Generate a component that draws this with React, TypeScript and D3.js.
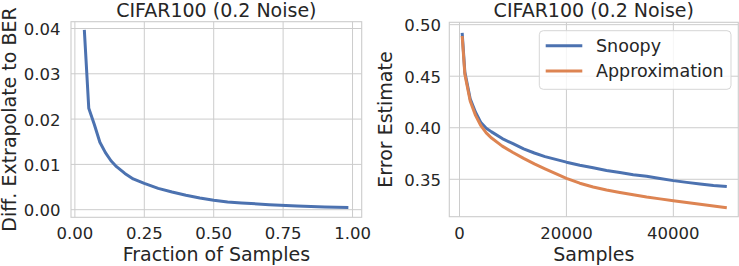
import React, { useEffect, useRef } from 'react'
import * as d3 from 'd3'

// Left panel: gap between the extrapolated error and the BER
const fractions = [0.034, 0.05, 0.07, 0.09, 0.11, 0.13, 0.15, 0.18, 0.21, 0.25, 0.30, 0.35, 0.40, 0.45, 0.50, 0.55, 0.60, 0.70, 0.80, 0.90, 0.985]
const diffBER = [0.0397, 0.0224, 0.0188, 0.0149, 0.0126, 0.0108, 0.0095, 0.0080, 0.0068, 0.0058, 0.0047, 0.0039, 0.0032, 0.0026, 0.0021, 0.0017, 0.0015, 0.0011, 0.0008, 0.0006, 0.0005]
const fracTicks = [0, 0.25, 0.5, 0.75, 1.0]
const diffTicks = [0, 0.01, 0.02, 0.03, 0.04]

// Right panel: error estimate vs number of samples
const samples = [500, 1000, 2000, 3000, 4000, 5000, 6000, 8000, 10000, 12000, 14000, 16000, 18000, 20000, 22500, 25000, 27500, 30000, 32500, 35000, 37500, 40000, 42500, 45000, 47500, 50000]
const snoopy = [0.492, 0.454, 0.428, 0.415, 0.405, 0.3995, 0.396, 0.3895, 0.3845, 0.3795, 0.3755, 0.372, 0.3693, 0.3666, 0.3637, 0.3612, 0.3585, 0.3565, 0.3545, 0.353, 0.3508, 0.3487, 0.347, 0.3455, 0.344, 0.3429]
const approximation = [0.489, 0.452, 0.426, 0.412, 0.402, 0.395, 0.390, 0.3822, 0.376, 0.3703, 0.365, 0.3602, 0.3555, 0.3508, 0.3462, 0.3425, 0.3396, 0.3372, 0.3349, 0.3328, 0.331, 0.3292, 0.3275, 0.3258, 0.324, 0.3224]
const sampleTicks = [0, 20000, 40000]
const errorTicks = [0.35, 0.40, 0.45, 0.50]

const title = 'CIFAR100 (0.2 Noise)'
const seriesNames = ['Snoopy', 'Approximation']
const colors = ['#4c72b0', '#dd8452']

const FONT = 'DejaVu Sans, sans-serif'
const TEXT = '#262626'
const GRID = '#cccccc'

function drawPanel(svg: any, p: any) {
    var x = d3.scaleLinear().domain(p.xDomain).range([p.left, p.right])
    var y = d3.scaleLinear().domain(p.yDomain).range([p.bottom, p.top])
    var g = svg.append('g')

    // Grid
    g.selectAll('.vg').data(p.xTicks).join('line')
        .attr('x1', (d: number) => x(d)).attr('x2', (d: number) => x(d))
        .attr('y1', p.top).attr('y2', p.bottom)
        .attr('stroke', GRID).attr('stroke-width', 1)
    g.selectAll('.hg').data(p.yTicks).join('line')
        .attr('x1', p.left).attr('x2', p.right)
        .attr('y1', (d: number) => y(d)).attr('y2', (d: number) => y(d))
        .attr('stroke', GRID).attr('stroke-width', 1)

    // Spines
    g.append('rect')
        .attr('x', p.left).attr('y', p.top)
        .attr('width', p.right - p.left).attr('height', p.bottom - p.top)
        .attr('fill', 'none').attr('stroke', GRID).attr('stroke-width', 1.1)

    // Lines
    var line = d3.line<number>()
        .x((d, i) => x(p.xs[i]))
        .y(d => y(d))
    p.series.forEach((s: number[], i: number) => {
        g.append('path')
            .datum(s)
            .attr('d', line)
            .attr('fill', 'none')
            .attr('stroke', colors[i])
            .attr('stroke-width', 3)
            .attr('stroke-linejoin', 'round')
    })

    // Tick labels
    g.selectAll('.xt').data(p.xTicks).join('text')
        .text((d: number) => p.xFormat(d))
        .attr('x', (d: number) => x(d)).attr('y', 239)
        .attr('text-anchor', 'middle')
        .attr('font-family', FONT).attr('font-size', '16.5px').attr('fill', TEXT)
    g.selectAll('.yt').data(p.yTicks).join('text')
        .text((d: number) => p.yFormat(d))
        .attr('x', p.left - p.yPad).attr('y', (d: number) => y(d) + 6.5)
        .attr('text-anchor', 'end')
        .attr('font-family', FONT).attr('font-size', '16.5px').attr('fill', TEXT)

    var cx = (p.left + p.right) / 2
    var cy = (p.top + p.bottom) / 2

    // Title and axis labels
    g.append('text').text(title)
        .attr('x', cx).attr('y', 17)
        .attr('text-anchor', 'middle')
        .attr('font-family', FONT).attr('font-size', '19px').attr('fill', TEXT)
    g.append('text').text(p.xLabel)
        .attr('x', cx).attr('y', 261)
        .attr('text-anchor', 'middle')
        .attr('font-family', FONT).attr('font-size', '19px').attr('fill', TEXT)
    g.append('text').text(p.yLabel)
        .attr('transform', 'translate(' + p.yLabelX + ',' + cy + ') rotate(-90)')
        .attr('text-anchor', 'middle')
        .attr('font-family', FONT).attr('font-size', '19px').attr('fill', TEXT)
}

export default function App() {
    const ref = useRef<SVGSVGElement>(null)

    useEffect(() => {
        var svg = d3.select(ref.current)
        svg.selectAll('*').remove()

        drawPanel(svg, {
            left: 71, right: 361.7, top: 21.7, bottom: 217.3,
            xDomain: [-0.014, 1.033], yDomain: [-0.00168, 0.0415],
            xTicks: fracTicks, yTicks: diffTicks,
            xFormat: d3.format('.2f'), yFormat: d3.format('.2f'),
            xs: fractions, series: [diffBER],
            xLabel: 'Fraction of Samples', yLabel: 'Diff. Extrapolate to BER',
            yLabelX: 16, yPad: 10.5
        })

        drawPanel(svg, {
            left: 449.3, right: 738.3, top: 22.3, bottom: 216.7,
            xDomain: [-1907, 52150], yDomain: [0.3137, 0.5023],
            xTicks: sampleTicks, yTicks: errorTicks,
            xFormat: d3.format('d'), yFormat: d3.format('.2f'),
            xs: samples, series: [snoopy, approximation],
            xLabel: 'Samples', yLabel: 'Error Estimate',
            yLabelX: 392, yPad: 8.3
        })

        // Legend
        var legend = svg.append('g').attr('transform', 'translate(539.3,30.7)')
        legend.append('rect')
            .attr('width', 191.7).attr('height', 58.6).attr('rx', 4)
            .attr('fill', '#ffffff').attr('fill-opacity', 0.8)
            .attr('stroke', '#d6d6d6').attr('stroke-width', 1)
        seriesNames.forEach((name, i) => {
            var ly = 15 + i * 25.3
            legend.append('line')
                .attr('x1', 6.4).attr('x2', 43)
                .attr('y1', ly).attr('y2', ly)
                .attr('stroke', colors[i]).attr('stroke-width', 3)
            legend.append('text').text(name)
                .attr('x', 56.7).attr('y', ly + 6.3)
                .attr('font-family', FONT).attr('font-size', '17.5px').attr('fill', TEXT)
        })
    }, [])

    return (
        <svg ref={ref} width={739} height={266}
            style={{ position: 'absolute', left: 0, top: 0, background: '#ffffff' }} />
    )
}
